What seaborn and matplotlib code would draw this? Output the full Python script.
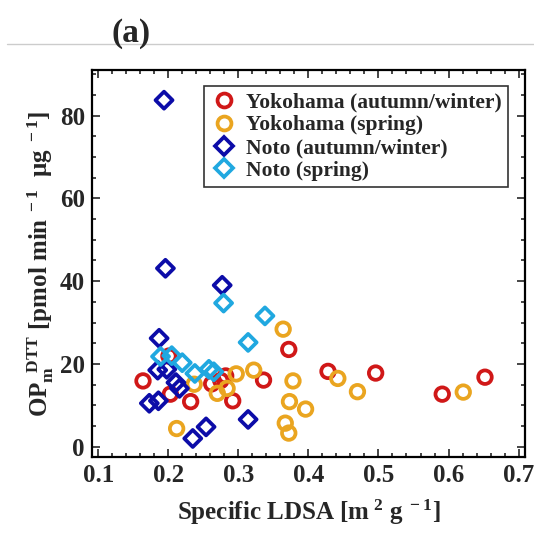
import numpy as np
import pandas as pd
import seaborn as sns
import matplotlib.pyplot as plt
from matplotlib.lines import Line2D
from matplotlib.ticker import MultipleLocator

# Data
yoko_aw_x = [0.164, 0.201, 0.203, 0.232, 0.262, 0.275, 0.282, 0.292, 0.336, 0.372, 0.428, 0.496, 0.591, 0.652]
yoko_aw_y = [15.9, 21.9, 12.7, 10.9, 15.2, 16.0, 17.1, 11.1, 16.1, 23.5, 18.2, 17.8, 12.7, 16.8]

yoko_sp_x = [0.212, 0.237, 0.270, 0.284, 0.297, 0.322, 0.364, 0.378, 0.373, 0.396, 0.367, 0.372, 0.442, 0.470, 0.621]
yoko_sp_y = [4.4, 15.1, 12.9, 14.1, 17.6, 18.5, 28.4, 15.9, 10.9, 9.1, 5.7, 3.3, 16.5, 13.3, 13.2]

noto_aw_x = [0.194, 0.196, 0.277, 0.187, 0.185, 0.198, 0.211, 0.216, 0.173, 0.186, 0.235, 0.254, 0.314]
noto_aw_y = [83.7, 43.1, 39.0, 26.2, 18.5, 18.7, 15.5, 14.1, 10.5, 11.1, 2.0, 4.8, 6.6]

noto_sp_x = [0.279, 0.338, 0.314, 0.189, 0.205, 0.220, 0.238, 0.258, 0.265]
noto_sp_y = [34.7, 31.6, 25.2, 21.8, 22.0, 20.3, 17.7, 18.7, 18.1]

labels = ["Yokohama (autumn/winter)", "Yokohama (spring)",
          "Noto (autumn/winter)", "Noto (spring)"]
colors = ["#d01818", "#eaa520", "#0c0ca8", "#20a8e0"]
markers = ["o", "o", "D", "D"]

df = pd.concat([
    pd.DataFrame({"x": yoko_aw_x, "y": yoko_aw_y, "group": labels[0]}),
    pd.DataFrame({"x": yoko_sp_x, "y": yoko_sp_y, "group": labels[1]}),
    pd.DataFrame({"x": noto_aw_x, "y": noto_aw_y, "group": labels[2]}),
    pd.DataFrame({"x": noto_sp_x, "y": noto_sp_y, "group": labels[3]}),
])

sns.set_style("ticks")
plt.rcParams["font.family"] = ["Liberation Serif", "DejaVu Serif"]
plt.rcParams["font.weight"] = "bold"
plt.rcParams["mathtext.fontset"] = "custom"
plt.rcParams["mathtext.rm"] = "Liberation Serif:bold"
plt.rcParams["mathtext.bf"] = "Liberation Serif:bold"
plt.rcParams["mathtext.it"] = "Liberation Serif:bold"

fig = plt.figure(figsize=(5.34, 5.34), dpi=100)
ax = fig.add_axes([0.172, 0.144, 0.811, 0.725])

for lab, c, m in zip(labels, colors, markers):
    sub = df[df["group"] == lab]
    sns.scatterplot(data=sub, x="x", y="y", ax=ax, marker=m,
                    s=95 if m == "o" else 75,
                    facecolors="none", edgecolor=c, linewidth=2.7,
                    legend=False, zorder=3)

ax.set_xlim(0.091, 0.709)
ax.set_ylim(-2.5, 91)
ax.xaxis.set_major_locator(MultipleLocator(0.1))
ax.xaxis.set_minor_locator(MultipleLocator(0.02))
ax.yaxis.set_major_locator(MultipleLocator(20))
ax.yaxis.set_minor_locator(MultipleLocator(5))
ax.tick_params(which="both", direction="in", top=True, right=True,
               labelsize=18, width=1.2, pad=5)
ax.tick_params(which="major", length=6)
ax.tick_params(which="minor", length=3)
ax.set_xticklabels([f"{v:.1f}" for v in ax.get_xticks()])
for sp in ax.spines.values():
    sp.set_linewidth(1.6)
    sp.set_color("black")

ax.set_xlabel(r"Specific LDSA [m$^{\ 2}$ g$^{\ -1}$]", fontsize=18,
              fontweight="bold", labelpad=8)
ax.set_ylabel(r"OP$_{\mathrm{m}}^{\ \ \mathrm{DTT}}$ [pmol min$^{\ -1}$  $\mu$g$^{\ -1}$]",
              fontsize=18, fontweight="bold", labelpad=3)

handles = [Line2D([], [], linestyle="none", marker=m, markersize=10 if m == "o" else 9,
                  markerfacecolor="none", markeredgecolor=c, markeredgewidth=2.7)
           for c, m in zip(colors, markers)]
leg = ax.legend(handles, labels, loc="upper right", bbox_to_anchor=(0.962, 0.958),
                frameon=True, fancybox=False, handletextpad=0.45,
                labelspacing=0.12, borderpad=0.3, handlelength=1.2,
                borderaxespad=0, prop={"weight": "bold", "size": 15.5})
leg.get_frame().set_edgecolor("black")
leg.get_frame().set_linewidth(1.2)

fig.text(0.245, 0.937, "(a)", fontsize=24, fontweight="bold", ha="center", va="center")
fig.add_artist(Line2D([0.013, 1.0], [0.918, 0.918], color="#cccccc", linewidth=1))

fig.savefig("out.png", dpi=100)
